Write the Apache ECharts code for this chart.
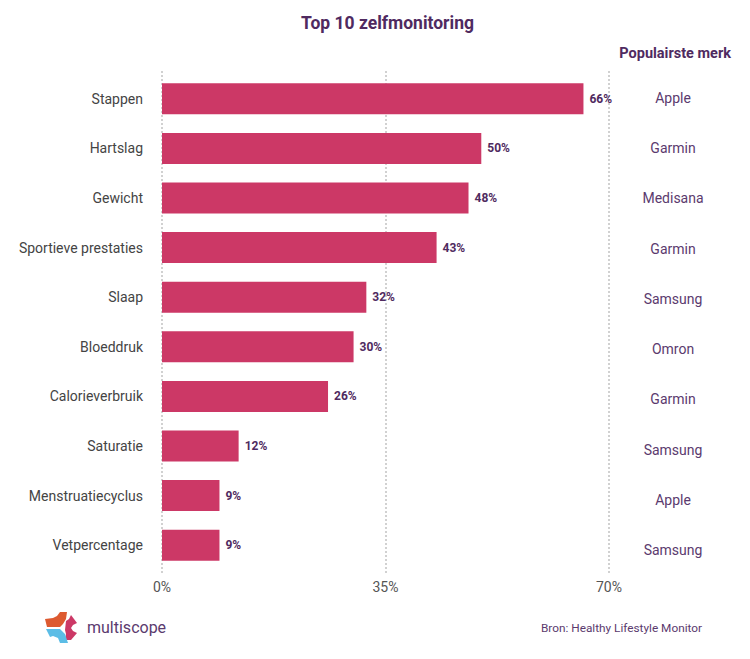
<!DOCTYPE html>
<html lang="nl">
<head>
    <meta charset="UTF-8">
    <title>Top 10 zelfmonitoring</title>
    <style>
        html, body { margin: 0; padding: 0; background: #fff; }
        #main { width: 750px; height: 659px; }
    </style>
</head>
<body>
    <div id="main"></div>
    <script src="https://cdn.jsdelivr.net/npm/echarts@6/dist/echarts.min.js"></script>
    <script>
        var categories = ['Stappen', 'Hartslag', 'Gewicht', 'Sportieve prestaties', 'Slaap', 'Bloeddruk', 'Calorieverbruik', 'Saturatie', 'Menstruatiecyclus', 'Vetpercentage'];
        var values = [66, 50, 48, 43, 32, 30, 26, 12, 9, 9];
        var brands = ['Apple', 'Garmin', 'Medisana', 'Garmin', 'Samsung', 'Omron', 'Garmin', 'Samsung', 'Apple', 'Samsung'];
        var ticks = [0, 35, 70];

        var purple = '#4f2a60';
        var font = 'Roboto';
        var myChart = echarts.init(document.getElementById('main'), null, { renderer: 'svg' });

        var option = {
            animation: false,
            backgroundColor: '#fff',
            textStyle: { fontFamily: font },
            grid: [
                { left: 162, top: 74, width: 447, height: 496 },
                { left: 615, top: 72.5, width: 116, height: 503 },
                // only for the dotted lines, they run a bit past the bars
                { left: 162, top: 71, width: 447, height: 502 }
            ],
            xAxis: [{
                gridIndex: 0, type: 'value',
                min: ticks[0], max: ticks[2], interval: ticks[1],
                axisLine: { show: false }, axisTick: { show: false },
                axisLabel: { formatter: '{value}%', color: '#555', fontSize: 14, margin: 10 },
                splitLine: { show: false }
            }, {
                gridIndex: 1, type: 'value', show: false
            }, {
                gridIndex: 2, type: 'value',
                min: ticks[0], max: ticks[2], interval: ticks[1],
                axisLine: { show: false }, axisTick: { show: false },
                axisLabel: { show: false },
                splitLine: { show: true, lineStyle: { color: '#c2c2c2', type: [2, 2], width: 1.5 } }
            }],
            yAxis: [{
                gridIndex: 0, type: 'category', inverse: true, data: categories,
                axisLine: { show: false }, axisTick: { show: false },
                axisLabel: { color: '#444', fontSize: 14, margin: 19 }
            }, {
                gridIndex: 1, type: 'category', inverse: true, data: brands,
                position: 'left',
                axisLine: { show: false }, axisTick: { show: false },
                axisLabel: { color: '#5b3a6e', fontSize: 14, align: 'center', inside: true, margin: 58 }
            }, {
                gridIndex: 2, type: 'category', show: false, data: categories
            }],
            series: [{
                type: 'bar', xAxisIndex: 0, yAxisIndex: 0,
                data: values, barWidth: 31,
                itemStyle: { color: '#cc3866' },
                label: {
                    show: true, position: 'right', distance: 6,
                    formatter: '{c}%', color: purple, fontSize: 12, fontWeight: 'bold'
                }
            }],
            graphic: [
                {
                    type: 'text', x: 387.5, y: 23,
                    style: { text: 'Top 10 zelfmonitoring', align: 'center', verticalAlign: 'middle', fill: purple, font: 'bold 17.5px Roboto' }
                },
                {
                    type: 'text', x: 731, y: 53,
                    style: { text: 'Populairste merk', align: 'right', verticalAlign: 'middle', fill: purple, font: 'bold 14.5px Roboto' }
                },
                {
                    type: 'text', x: 702, y: 628,
                    style: { text: 'Bron: Healthy Lifestyle Monitor', align: 'right', verticalAlign: 'middle', fill: '#5b3a6e', font: '11.8px Roboto' }
                },
                {
                    type: 'text', x: 87, y: 627,
                    style: { text: 'multiscope', align: 'left', verticalAlign: 'middle', fill: '#5b3a6e', font: '16px Roboto' }
                },
                // logo
                { type: 'polygon', shape: { points: [[45, 619], [53, 618], [57, 616], [60, 612], [67, 612], [66, 619], [63, 624], [60, 627], [47, 627]] }, style: { fill: '#dd5a30' } },
                { type: 'polygon', shape: { points: [[66, 621], [69, 619], [71, 615], [77, 623], [73, 625], [71, 628], [73, 631], [77, 633], [71, 640], [65, 640], [66, 634], [65, 630]] }, style: { fill: '#cc3866' } },
                { type: 'polygon', shape: { points: [[46, 629], [60, 629], [65, 634], [68, 643], [60, 643], [58, 638], [53, 636], [50, 637]] }, style: { fill: '#5cbde6' } }
            ]
        };
        myChart.setOption(option);
    </script>
</body>
</html>
